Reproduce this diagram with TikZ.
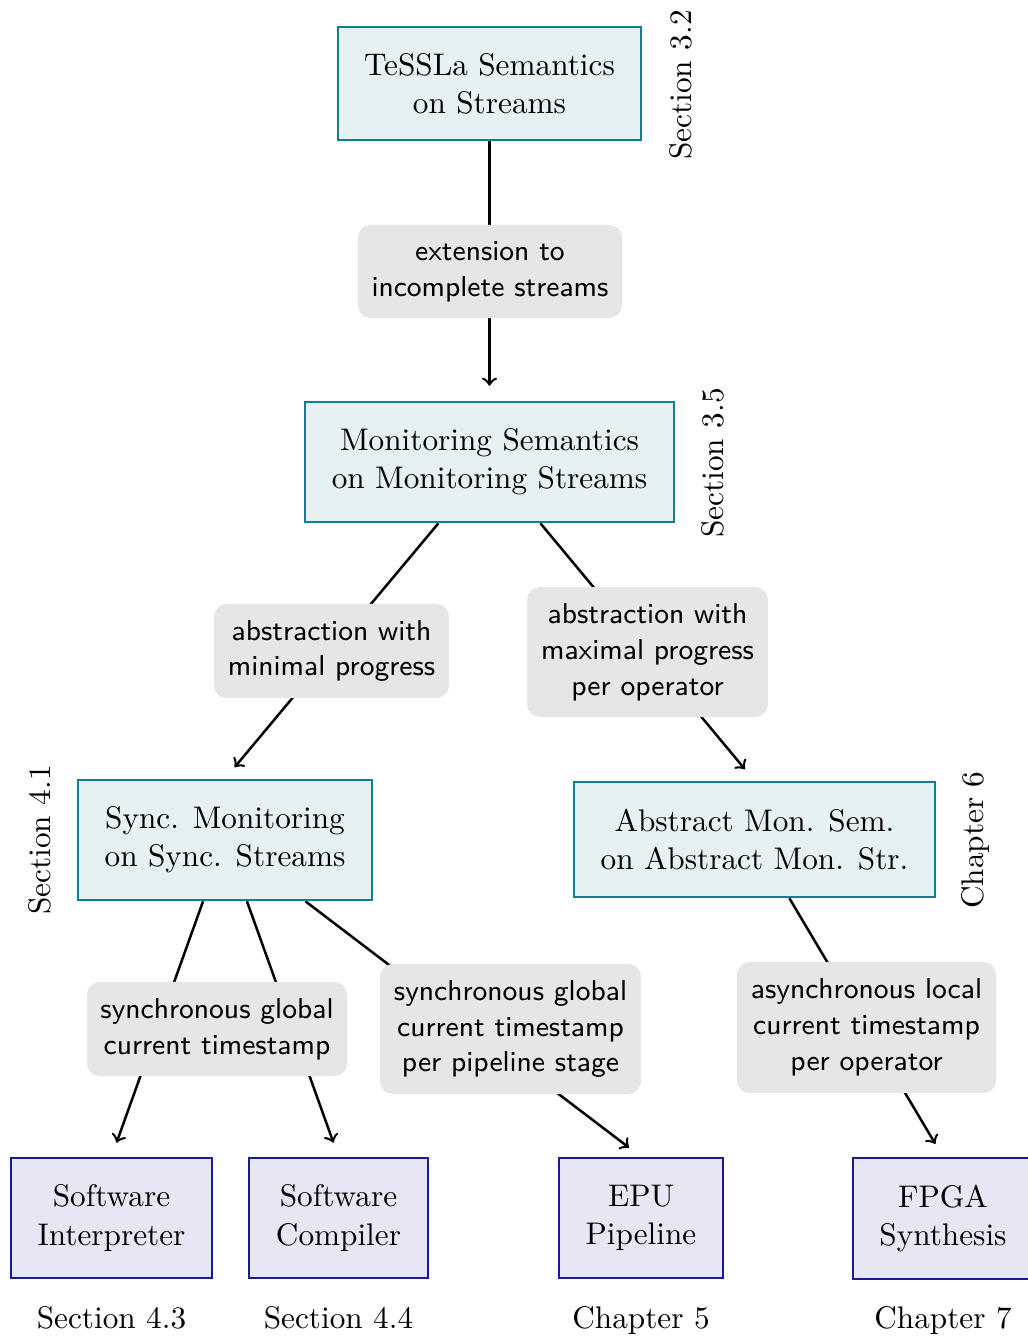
\documentclass[tikz,border=0pt]{standalone}
\usepackage{fontspec}
\usetikzlibrary{backgrounds}
\definecolor{tealB}{RGB}{16,128,144}
\definecolor{tealF}{RGB}{229,241,243}
\definecolor{blueB}{RGB}{26,26,150}
\definecolor{blueF}{RGB}{230,230,245}
\definecolor{labF}{RGB}{230,230,230}
\begin{document}
\begin{tikzpicture}[x=0.32pt,y=-0.32pt,
  sem/.style={draw=tealB,fill=tealF,line width=0.8pt,align=center,inner sep=0pt,font=\fontsize{10}{12.2}\selectfont},
  impl/.style={draw=blueB,fill=blueF,line width=0.8pt,align=center,inner sep=0pt,font=\fontsize{10}{12.2}\selectfont},
  lab/.style={fill=labF,rounded corners=4pt,align=center,inner sep=0pt,font=\sffamily\fontsize{9.2}{11.5}\selectfont},
  refl/.style={font=\fontsize{10}{12}\selectfont,inner sep=0pt},
  conn/.style={line width=0.8pt,->,shorten >=4.8pt}]
\useasboundingbox (0,0) rectangle (1027,1337);

% semantics boxes
\node[sem,minimum width=97pt,minimum height=36.2pt] (A) at (489.5,83.5) {TeSSLa Semantics\\on Streams};
\node[sem,minimum width=118.1pt,minimum height=38.4pt] (B) at (489.5,462) {Monitoring Semantics\\on Monitoring Streams};
\node[sem,minimum width=94.1pt,minimum height=38.4pt] (C) at (225,840) {Sync. Monitoring\\on Sync. Streams};
\node[sem,minimum width=115.5pt,minimum height=36.8pt] (D) at (754.5,839.5) {Abstract Mon. Sem.\\on Abstract Mon. Str.};

% implementation boxes
\node[impl,minimum width=64.3pt,minimum height=38.4pt] (E) at (111.5,1218) {Software\\Interpreter};
\node[impl,minimum width=57.3pt,minimum height=38.4pt] (F) at (338.5,1218) {Software\\Compiler};
\node[impl,minimum width=52.5pt,minimum height=38.4pt] (G) at (641,1218) {EPU\\Pipeline};
\node[impl,minimum width=57.6pt,minimum height=38.7pt] (H) at (943,1218.5) {FPGA\\Synthesis};

% connectors
\begin{scope}[on background layer]
\draw[conn] (A) -- (B.north);
\draw[conn] (B) -- (C.north);
\draw[conn] (B) -- (D.north);
\draw[conn] (C) -- (E.north);
\draw[conn] (C) -- (F.north);
\draw[conn] (C) -- (G.north);
\draw[conn] (D) -- (H.north);
\end{scope}

% edge labels
\node[lab,minimum width=84.5pt,minimum height=29.8pt] (L1) at (490,271.5) {extension to\\incomplete streams};
\node[lab,minimum width=75.2pt,minimum height=30.1pt] (L2) at (331.5,651) {abstraction with\\minimal progress};
\node[lab,minimum width=77.1pt,minimum height=41.6pt] (L3) at (647.5,652) {abstraction with\\maximal progress\\per operator};
\node[lab,minimum width=83.2pt,minimum height=30.1pt] (L4) at (217,1029) {synchronous global\\current timestamp};
\node[lab,minimum width=83.5pt,minimum height=41.6pt] (L5) at (510.5,1029) {synchronous global\\current timestamp\\per pipeline stage};
\node[lab,minimum width=82.9pt,minimum height=41.9pt] (L6) at (866.5,1027.5) {asynchronous local\\current timestamp\\per operator};

% references
\node[refl,rotate=90] (rA) at (681,85) {Section 3.2};
\node[refl,rotate=90] (rB) at (713,463) {Section 3.5};
\node[refl,rotate=90] (rC) at (40,840) {Section 4.1};
\node[refl,rotate=90] (rD) at (975,840) {Chapter 6};
\node[refl,anchor=base] (rE) at (111.5,1328) {Section 4.3};
\node[refl,anchor=base] (rF) at (338.5,1328) {Section 4.4};
\node[refl,anchor=base] (rG) at (641,1328) {Chapter 5};
\node[refl,anchor=base] (rH) at (943,1328) {Chapter 7};
\end{tikzpicture}
\end{document}
